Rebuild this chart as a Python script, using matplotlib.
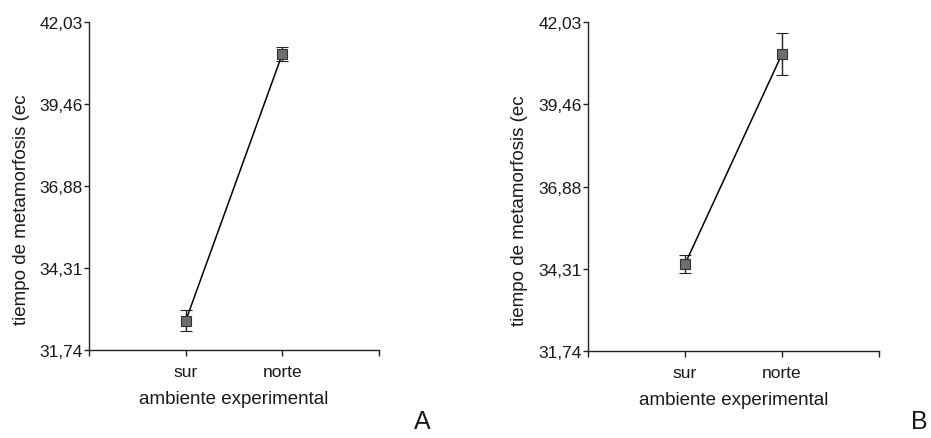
import matplotlib
matplotlib.use("Agg")
import matplotlib.pyplot as plt

plt.rcParams['font.family'] = ['Liberation Sans', 'DejaVu Sans']

categories = ["sur", "norte"]
y_ticks = [31.74, 34.31, 36.88, 39.46, 42.03]
y_tick_labels = ["31,74", "34,31", "36,88", "39,46", "42,03"]

means_a = [32.65, 41.03]
err_a = [0.33, 0.23]
means_b = [34.46, 41.03]
err_b = [0.29, 0.65]

panels = [
    ("A", means_a, err_a, [0.0956, 0.2005, 0.3115, 0.7471], 0.463),
    ("B", means_b, err_b, [0.6316, 0.1982, 0.3126, 0.7494], 0.996),
]

fig = plt.figure(figsize=(9.31, 4.39), dpi=100)

for letter, means, errs, rect, letter_x in panels:
    ax = fig.add_axes(rect)
    x = list(range(1, len(categories) + 1))
    ax.errorbar(x, means, yerr=errs, fmt='-', color='black', lw=1.1,
                ecolor='#222222', elinewidth=1.0, capsize=4.5, capthick=1.0,
                marker='s', markersize=6.5, markerfacecolor='#6e6e6e',
                markeredgecolor='#333333', markeredgewidth=0.8, zorder=3)
    ax.set_xlim(0, 3)
    ax.set_ylim(y_ticks[0], y_ticks[-1])
    ax.set_xticks([0, 1, 2, 3])
    ax.set_xticklabels([""] + categories + [""], fontsize=12.5)
    ax.set_yticks(y_ticks)
    ax.set_yticklabels(y_tick_labels, fontsize=12.5)
    for s in ("top", "right"):
        ax.spines[s].set_visible(False)
    for s in ("left", "bottom"):
        ax.spines[s].set_linewidth(1.0)
        ax.spines[s].set_color('#222222')
    ax.tick_params(axis='y', direction='out', length=3.5, width=1.0, pad=1, colors='#222222')
    ax.tick_params(axis='x', direction='out', length=4, width=1.0, pad=6, colors='#222222')
    for t in ax.get_xticklabels() + ax.get_yticklabels():
        t.set_color('#1a1a1a')
    ax.set_xlabel("ambiente experimental", fontsize=13.5, labelpad=8, color='#1a1a1a')
    ax.set_ylabel("tiempo de metamorfosis (ec", fontsize=13.5, labelpad=6, color='#1a1a1a')
    ax.yaxis.set_label_coords(-0.205, 0.43)
    fig.text(letter_x, 0.012, letter, fontsize=18, ha='right', va='bottom', color='#1a1a1a')

fig.savefig("out.png", dpi=100, facecolor='white')
